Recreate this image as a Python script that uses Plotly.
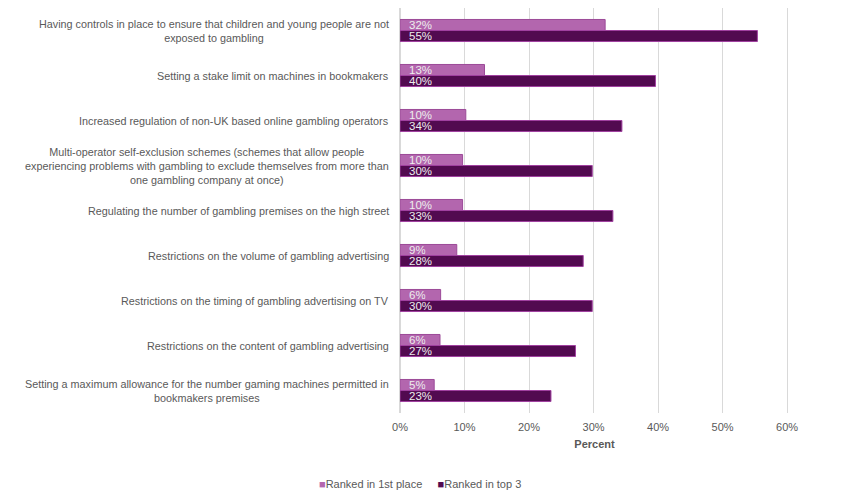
import plotly.graph_objects as go

categories = [
    "Having controls in place to ensure that children and young people are not<br>exposed to gambling",
    "Setting a stake limit on machines in bookmakers",
    "Increased regulation of non-UK based online gambling operators",
    "Multi-operator self-exclusion schemes (schemes that allow people<br>experiencing problems with gambling to exclude themselves from more than<br>one gambling company at once)",
    "Regulating the number of gambling premises on the high street",
    "Restrictions on the volume of gambling advertising",
    "Restrictions on the timing of gambling advertising on TV",
    "Restrictions on the content of gambling advertising",
    "Setting a maximum allowance for the number gaming machines permitted in<br>bookmakers premises",
]
first_place = [31.8, 13.1, 10.2, 9.7, 9.7, 8.8, 6.3, 6.2, 5.3]
top_three = [55.4, 39.6, 34.4, 29.8, 33.0, 28.4, 29.8, 27.2, 23.4]
first_labels = ["32%", "13%", "10%", "10%", "10%", "9%", "6%", "6%", "5%"]
top_labels = ["55%", "40%", "34%", "30%", "33%", "28%", "30%", "27%", "23%"]
series_names = ["Ranked in 1st place", "Ranked in top 3"]
x_ticks = [0, 10, 20, 30, 40, 50, 60]
x_tick_labels = ["0%", "10%", "20%", "30%", "40%", "50%", "60%"]

ids = list(range(len(categories)))
FONT = "Liberation Sans, Arial, sans-serif"
GREY = "#595959"
C1, C1_LINE = "#B366AE", "#9C4A98"
C2, C2_LINE = "#520A50", "#A040A0"

W, H = 851, 500
ML, MR, MT, MB = 400, 62, 8, 87
plot_w = W - ML - MR
plot_h = H - MT - MB

fig = go.Figure()
fig.add_trace(go.Bar(
    y=ids, x=first_place, orientation="h", name=series_names[0],
    marker=dict(color=C1, line=dict(color=C1_LINE, width=1)),
    hoverinfo="skip", showlegend=False,
))
fig.add_trace(go.Bar(
    y=ids, x=top_three, orientation="h", name=series_names[1],
    marker=dict(color=C2, line=dict(color=C2_LINE, width=1)),
    hoverinfo="skip", showlegend=False,
))

# value labels inside the bars, near the bar start
for i in ids:
    for lab, shift in ((first_labels[i], 5.5), (top_labels[i], -5.5)):
        fig.add_annotation(
            x=0, xref="x", xanchor="left", xshift=8,
            y=i, yref="y", yanchor="middle", yshift=shift,
            text=lab, showarrow=False, height=10, borderpad=0,
            font=dict(family=FONT, size=11.5, color="#EDEDED"),
        )

# category labels, centred lines, right-aligned block
for i, c in enumerate(categories):
    fig.add_annotation(
        x=0, xref="paper", xanchor="right", xshift=-9,
        y=i, yref="y", yanchor="middle",
        text=c, showarrow=False, align="center",
        font=dict(family=FONT, size=10.8, color=GREY),
    )

# legend drawn as text
legend_text = (
    f"<span style='color:{C1}'>■</span>{series_names[0]}"
    f"     "
    f"<span style='color:{C2}'>■</span>{series_names[1]}"
)
fig.add_annotation(
    x=(420 - ML) / plot_w, xref="paper", y=(H - MB - 484) / plot_h, yref="paper",
    showarrow=False, text=legend_text,
    font=dict(family=FONT, size=11, color=GREY),
    xanchor="center", yanchor="middle",
)

fig.update_layout(
    width=W, height=H,
    margin=dict(l=ML, r=MR, t=MT, b=MB),
    barmode="group", bargap=0.51, bargroupgap=0,
    plot_bgcolor="white", paper_bgcolor="white",
    font=dict(family=FONT, size=11, color=GREY),
    showlegend=False,
    xaxis=dict(range=[0, 60.3], tickvals=x_ticks, ticktext=x_tick_labels,
               showgrid=True, gridcolor="#D9D9D9", gridwidth=1,
               zeroline=True, zerolinecolor="#D9D9D9",
               showline=False, ticks="outside", ticklen=4,
               tickcolor="rgba(0,0,0,0)",
               tickfont=dict(family=FONT, size=11, color=GREY),
               title=dict(text="<b>Percent</b>", standoff=8,
                          font=dict(family=FONT, size=11, color=GREY))),
    yaxis=dict(range=[len(categories) - 0.5, -0.5], showticklabels=False,
               showgrid=False, zeroline=False, ticks=""),
)

fig.write_html("out.html")
